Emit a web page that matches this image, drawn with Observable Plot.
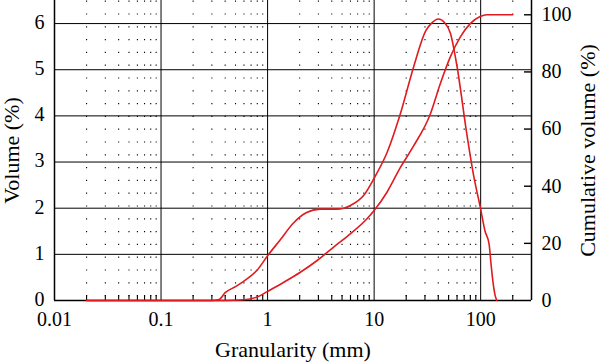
<!DOCTYPE html>
<html>
<head>
<meta charset="utf-8">
<script src="https://cdn.jsdelivr.net/npm/d3@7"></script>
<script src="https://cdn.jsdelivr.net/npm/@observablehq/plot@0.6"></script>
<style>
  html, body { margin: 0; padding: 0; background: #fff; }
  #chart { width: 600px; height: 362px; }
</style>
</head>
<body>
<div id="chart"></div>
<script>
// Volume distribution (left axis, %)
const volSize  = [0.02, 0.1, 0.3, 0.35, 0.4, 0.5, 0.6, 0.8, 1.0, 1.3, 1.75, 2.3, 3.1, 4.5, 6.0, 8.0, 10, 13.2, 17.6, 23.4, 30.5, 35, 40, 46, 52, 60, 74, 86, 99, 110, 120, 125, 130, 137, 142];
const volValue = [0, 0, 0, 0.02, 0.17, 0.3, 0.42, 0.66, 0.97, 1.3, 1.68, 1.9, 1.98, 1.98, 2.06, 2.28, 2.65, 3.2, 4.04, 5.05, 5.84, 6.02, 6.1, 6.02, 5.79, 5.07, 3.62, 2.7, 2.03, 1.5, 1.22, 0.8, 0.43, 0.1, 0];

// Cumulative volume (right axis, %)
const cumSize  = [0.02, 0.3, 0.55, 0.8, 1.0, 1.42, 2.03, 2.92, 4.17, 5.98, 8.57, 10, 13.2, 17.6, 23.4, 33.7, 41.7, 51.8, 64.3, 79.8, 98.9, 114, 200];
const cumValue = [0, 0, 0.2, 1.2, 3.2, 6.4, 9.9, 14, 18.7, 23.3, 28.6, 31.5, 37.9, 46.5, 54, 65.3, 75.8, 85.2, 92.2, 96.9, 99.4, 100, 100];

// Ticks
const xTicks = [0.01, 0.1, 1, 10, 100];
const xTickLabels = ["0.01", "0.1", "1", "10", "100"];
const xGrid = [0.1, 1, 10, 100];
const decades = [0.01, 0.1, 1, 10];
const minorSteps = [2, 3, 4, 5, 6, 7, 8, 9];
const extraMinor = [200];
const leftTicks = [0, 1, 2, 3, 4, 5, 6];
const leftGrid = [1, 2, 3, 4, 5, 6];
const rightTicks = [0, 20, 40, 60, 80, 100];
const rightTickMarks = [20, 40, 60, 80, 100];

const leftMax = 6.5, rightMax = 105;
const k = leftMax / rightMax;

const minorTicks = decades.flatMap(d => minorSteps.map(m => +(d * m).toPrecision(3))).concat(extraMinor);

const volData = volSize.map((s, i) => ({s, v: volValue[i]}));
const cumData = cumSize.map((s, i) => ({s, v: cumValue[i] * k}));

const red = "#e01b1f";
const font = "'Liberation Serif', 'DejaVu Serif', serif";

const W = 600, H = 362, mL = 54, mR = 69, mT = 0, mB = 62;
const plotW = W - mL - mR, plotH = H - mT - mB;

const chart = Plot.plot({
  width: W, height: H,
  marginLeft: mL, marginRight: mR, marginTop: mT, marginBottom: mB,
  style: {fontFamily: font, color: "#000", background: "#fff"},
  x: {type: "log", domain: [0.01, 300], axis: null},
  y: {domain: [0, leftMax], axis: null},
  marks: [
    // dotted minor grid
    Plot.ruleX(minorTicks, {x: d => d, stroke: "#000", strokeWidth: 1.1, strokeDasharray: "1.2,11.6", strokeDashoffset: -0.6}),
    // major grid
    Plot.ruleX(xGrid, {x: d => d, stroke: "#000", strokeWidth: 1}),
    Plot.ruleY(leftGrid, {y: d => d, stroke: "#000", strokeWidth: 1}),
    // bottom minor ticks (inward)
    Plot.ruleX(minorTicks, {x: d => d, stroke: "#000", strokeWidth: 1.1, insetTop: plotH - 5}),
    // right ticks (inward)
    Plot.ruleY(rightTickMarks, {y: d => d * k, stroke: "#000", strokeWidth: 1.4, insetLeft: plotW - 7}),
    // frame: left, right, bottom
    Plot.ruleX([0.01, 300], {x: d => d, stroke: "#000", strokeWidth: 1.5}),
    Plot.ruleY([0], {y: d => d, stroke: "#000", strokeWidth: 1.5}),
    // curves
    Plot.line(cumData, {x: "s", y: "v", stroke: red, strokeWidth: 1.6, curve: "monotone-x"}),
    Plot.line(volData, {x: "s", y: "v", stroke: red, strokeWidth: 1.6, curve: "monotone-x"}),
    // tick labels
    Plot.text(xTicks, {x: d => d, text: (d, i) => xTickLabels[i], frameAnchor: "bottom", dy: 19, lineAnchor: "middle", fontSize: 20, fill: "#000"}),
    Plot.text(leftTicks, {y: d => d, text: d => String(d), frameAnchor: "left", textAnchor: "end", dx: -10, dy: -1, lineAnchor: "middle", fontSize: 20, fill: "#000"}),
    Plot.text(rightTicks, {y: d => d * k, text: d => String(d), frameAnchor: "right", textAnchor: "start", dx: 10, lineAnchor: "middle", fontSize: 20, fill: "#000"}),
    // axis titles
    Plot.text(["Granularity (mm)"], {text: d => d, frameAnchor: "bottom", dy: 49, lineAnchor: "middle", fontSize: 22, fill: "#000"}),
    Plot.text(["Volume (%)"], {text: d => d, frameAnchor: "left", textAnchor: "middle", dx: -43, rotate: -90, lineAnchor: "middle", fontSize: 22, fill: "#000"}),
    Plot.text(["Cumulative volume (%)"], {text: d => d, frameAnchor: "right", textAnchor: "middle", dx: 56, rotate: -90, lineAnchor: "middle", fontSize: 22, fill: "#000"})
  ]
});
document.getElementById("chart").appendChild(chart);
</script>
</body>
</html>
